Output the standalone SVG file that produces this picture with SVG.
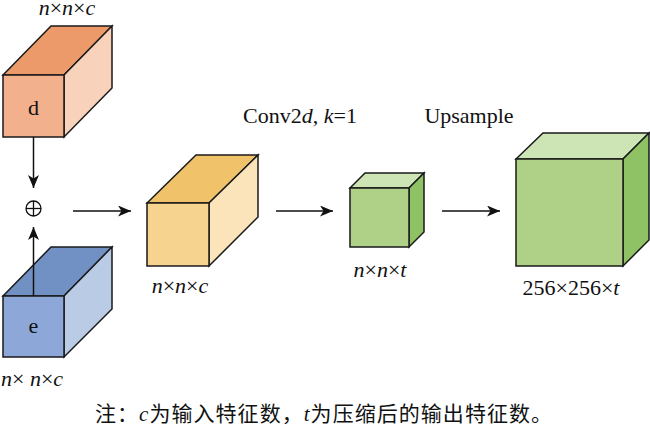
<svg xmlns="http://www.w3.org/2000/svg" width="650" height="428" viewBox="0 0 650 428">
<defs>
<marker id="ah" markerUnits="userSpaceOnUse" markerWidth="14" markerHeight="12" refX="13" refY="5.5" orient="auto">
<path d="M0,0 L13,5.5 L0,11 L3.5,5.5 Z" fill="#111"/>
</marker>
<style>
.e{stroke:#1a1a1a;stroke-width:1.5;stroke-linejoin:miter}
.t{font-family:"Liberation Serif","Times New Roman",serif;font-size:22px;fill:#111}
.i{font-style:italic}
.c{stroke:#111;stroke-width:1.5;fill:none}
.n{font-family:"Liberation Serif","Noto Sans CJK SC",serif;font-size:21px;fill:#111}
</style>
</defs>
<rect width="650" height="428" fill="#fff"/>
<g id="node-d">
<polygon class="e" points="3,75 51,26 112,26 64,75" fill="#EC9A69"/>
<polygon class="e" points="64,75 112,26 112,88 64,137" fill="#F9D2BC"/>
<rect class="e" x="3" y="75" width="61" height="62" fill="#F2B08C"/>
<text class="t" x="33.5" y="115" text-anchor="middle">d</text>
<text class="t" x="67" y="15" text-anchor="middle"><tspan class="i">n</tspan>×<tspan class="i">n</tspan>×<tspan class="i">c</tspan></text>
</g>
<g id="node-e">
<polygon class="e" points="3,296 51,247 112,247 64,296" fill="#7190C4"/>
<polygon class="e" points="64,296 112,247 112,309 64,357" fill="#BACBE6"/>
<rect class="e" x="3" y="296" width="61" height="61" fill="#8DA8D8"/>
<text class="t" x="33.5" y="333" text-anchor="middle">e</text>
<text class="t" x="1" y="386"><tspan class="i">n</tspan>× <tspan class="i">n</tspan>×<tspan class="i">c</tspan></text>
</g>
<g id="node-plus">
<circle cx="33.5" cy="208.5" r="7.5" fill="none" stroke="#111" stroke-width="1.3"/>
<line x1="26" y1="208.5" x2="41" y2="208.5" stroke="#111" stroke-width="1.3"/>
<line x1="33.5" y1="201" x2="33.5" y2="216" stroke="#111" stroke-width="1.3"/>
</g>
<g id="node-concat">
<polygon class="e" points="147,203 196,155 258,155 209,203" fill="#F0C36A"/>
<polygon class="e" points="209,203 258,155 258,217 209,266" fill="#FBE4BA"/>
<rect class="e" x="147" y="203" width="62" height="63" fill="#F6D38F"/>
<text class="t" x="180" y="293" text-anchor="middle"><tspan class="i">n</tspan>×<tspan class="i">n</tspan>×<tspan class="i">c</tspan></text>
</g>
<g id="node-conv">
<polygon class="e" points="350,188 365,173 424,173 409,188" fill="#CDE4B4"/>
<polygon class="e" points="409,188 424,173 424,232 409,247" fill="#8FC165"/>
<rect class="e" x="350" y="188" width="59" height="59" fill="#AED087"/>
<text class="t" x="380" y="277" text-anchor="middle"><tspan class="i">n</tspan>×<tspan class="i">n</tspan>×<tspan class="i">t</tspan></text>
</g>
<g id="node-up">
<polygon class="e" points="516,159 543,133 649,133 623,159" fill="#CDE4B4"/>
<polygon class="e" points="623,159 649,133 649,240 623,266" fill="#8FC165"/>
<rect class="e" x="516" y="159" width="107" height="107" fill="#AED087"/>
<text class="t" x="571" y="295" text-anchor="middle">256×256×<tspan class="i">t</tspan></text>
</g>
<g id="connectors">
<line class="c" x1="33.5" y1="137" x2="33.5" y2="188" marker-end="url(#ah)"/>
<line class="c" x1="33.5" y1="296" x2="33.5" y2="227" marker-end="url(#ah)"/>
<line class="c" x1="73" y1="211" x2="131" y2="211" marker-end="url(#ah)"/>
<line class="c" x1="276" y1="211" x2="333" y2="211" marker-end="url(#ah)"/>
<line class="c" x1="442" y1="211" x2="500" y2="211" marker-end="url(#ah)"/>
<text class="t" x="300" y="123" text-anchor="middle">Conv2<tspan class="i">d</tspan>, <tspan class="i">k</tspan>=1</text>
<text class="t" x="469" y="123" text-anchor="middle">Upsample</text>
</g>
<text class="n" x="95" y="421" textLength="457" lengthAdjust="spacing"><tspan font-family="'Noto Sans CJK SC',sans-serif">注：</tspan><tspan font-style="italic">c</tspan><tspan font-family="'Noto Sans CJK SC',sans-serif">为输入特征数，</tspan><tspan font-style="italic">t</tspan><tspan font-family="'Noto Sans CJK SC',sans-serif">为压缩后的输出特征数。</tspan></text>
</svg>
